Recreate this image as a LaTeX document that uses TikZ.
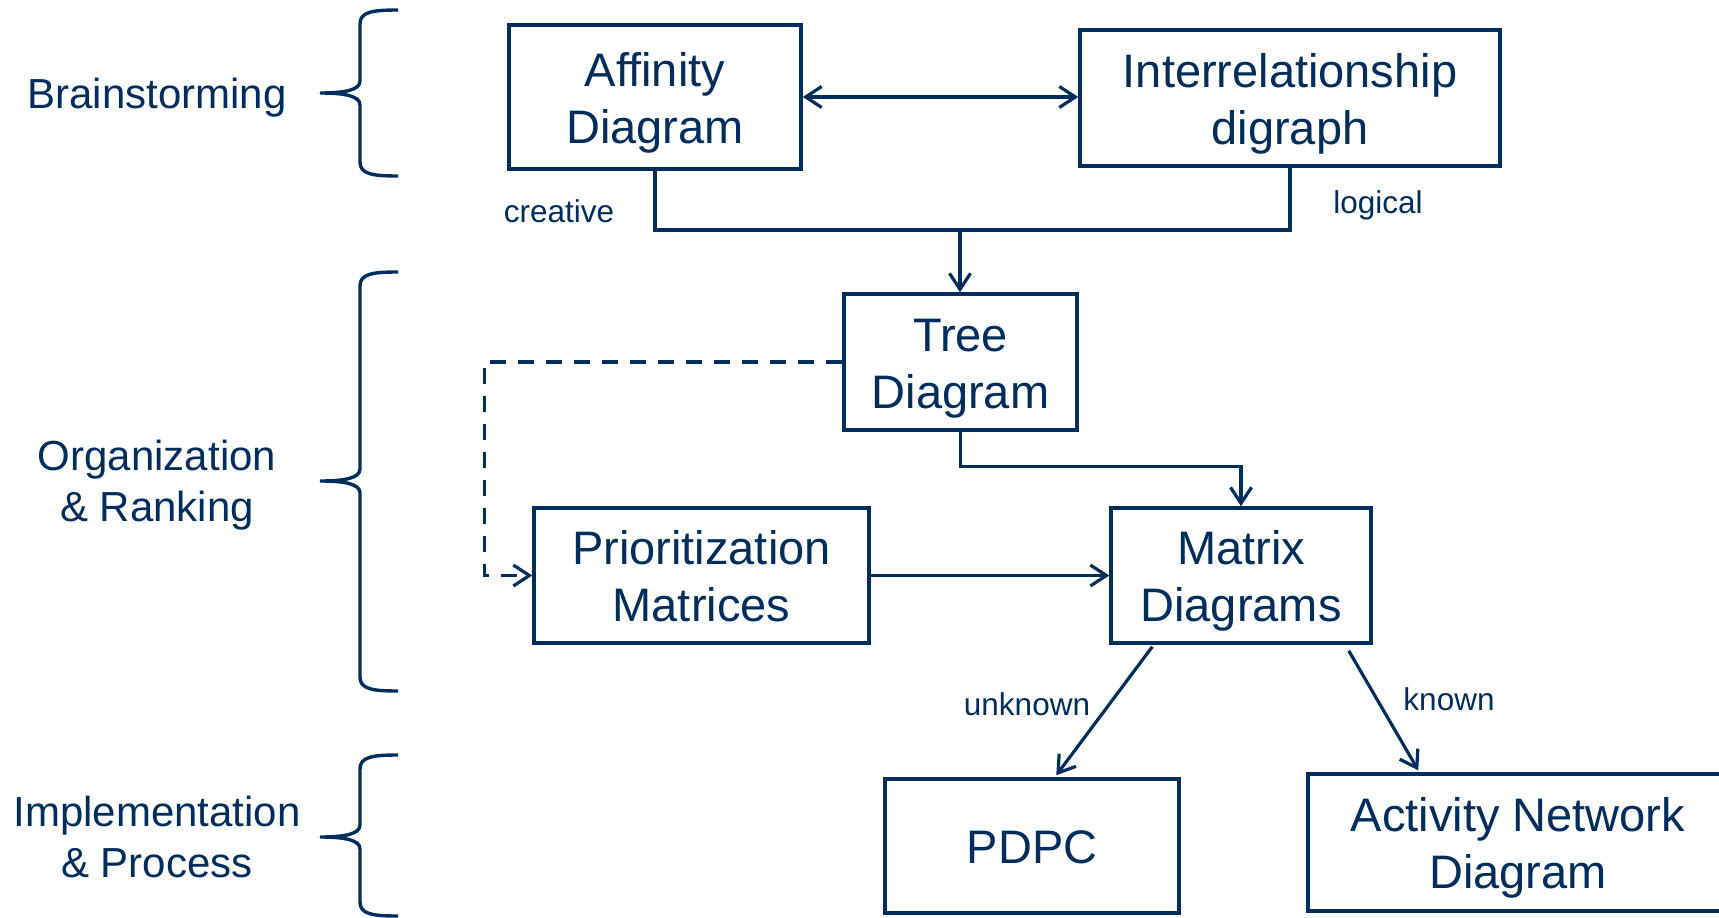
\documentclass[tikz,border=0pt]{standalone}
\usepackage{fontspec}
\setmainfont{Liberation Sans}
\usetikzlibrary{arrows.meta,calc}
\definecolor{navy}{HTML}{002D5B}
% line strut for box text: 46pt above, 11pt below the baseline
\newcommand\bst{\rule[-11pt]{0pt}{57pt}}
% line strut for the stage labels on the left
\newcommand\sst{\rule[-10pt]{0pt}{50pt}}
\begin{document}
\begin{tikzpicture}[x=1pt,y=-1pt,
  tool/.style={draw=navy, line width=3.5pt, inner sep=0pt, text=navy, align=center,
    font=\fontsize{47}{57}\selectfont},
  conn/.style={draw=navy, line width=3.2pt},
  arr/.style={conn, -{Straight Barb[length=16pt,width=21pt]}},
  biarr/.style={conn, {Straight Barb[length=16pt,width=21pt]}-{Straight Barb[length=16pt,width=21pt]}},
  darr/.style={arr, dash pattern=on 16pt off 12pt},
  cond/.style={text=navy, inner sep=0pt, anchor=base, font=\fontsize{31.5}{38}\selectfont},
  stage/.style={text=navy, inner sep=0pt, align=center, font=\fontsize{42}{51}\selectfont},
  curly/.style={draw=navy, line width=3.4pt}]
\useasboundingbox (0,0) rectangle (1719,918);
\clip (0,0) rectangle (1719,918);
\fill[white] (0,0) rectangle (1719,918);

% stage braces
\foreach \t/\m/\b in {10/93/176, 272/481/691, 755/837/916}{
  \draw[curly] (398,\t) .. controls (372,\t) and (360,\t+2) .. (360,\t+14)
    -- (360,\m-12) .. controls (360,\m-3) and (345,\m) .. (320,\m)
    .. controls (345,\m) and (360,\m+3) .. (360,\m+12)
    -- (360,\b-14) .. controls (360,\b-2) and (372,\b) .. (398,\b);
}

% stage labels
\node[stage] (s1) at (157,93)  {\sst Brainstorming};
\node[stage] (s2) at (157,481) {\sst Organization\\\sst \& Ranking};
\node[stage] (s3) at (157,837) {\sst Implementation\\\sst \& Process};

% tools
\node[tool, minimum width=292pt, minimum height=144pt] (aff)  at (655,97)     {\bst Affinity\\\bst Diagram};
\node[tool, minimum width=420pt, minimum height=136pt] (irl)  at (1290,98)    {\bst Interrelationship\\\bst digraph};
\node[tool, minimum width=233pt, minimum height=136pt] (tree) at (960.5,362)  {\bst Tree\\\bst Diagram};
\node[tool, minimum width=335pt, minimum height=135pt] (pri)  at (701.5,575.5){\bst Prioritization\\\bst Matrices};
\node[tool, minimum width=260pt, minimum height=135pt] (mat)  at (1241,575.5) {\bst Matrix\\\bst Diagrams};
\node[tool, minimum width=294pt, minimum height=134pt] (pdpc) at (1032,846)   {\bst PDPC};
\node[tool, minimum width=420pt, minimum height=137pt] (act)  at (1518,842.5) {\bst Activity Network\\\bst Diagram};

% connectors
\draw[biarr] (aff.east) -- (aff.east -| irl.west);
\coordinate (j) at (960,230);
\draw[conn] (aff.south) |- (j);
\draw[conn] (irl.south) |- (j);
\draw[arr] (j) -- (j |- tree.north);
\draw[arr] (tree.south) |- ($(mat.north)+(0,-40)$) -- (mat.north);
\draw[darr] (tree.west) -| ($(pri.west)+(-48,0)$) -- (pri.west);
\draw[arr] (pri.east) -- (pri.east -| mat.west);
\draw[arr] ($(mat.south west)+(43,2)$) -- ($(pdpc.north west)+(173,-2)$);
\draw[arr] ($(mat.south east)+(-24,6)$) -- ($(act.north west)+(112,-2)$);

% connector conditions
\node[cond] (c1) at (559,222)   {creative};
\node[cond] (c2) at (1378,213)  {logical};
\node[cond] (c3) at (1027,715.5){unknown};
\node[cond] (c4) at (1449,710.5){known};
\end{tikzpicture}
\end{document}
